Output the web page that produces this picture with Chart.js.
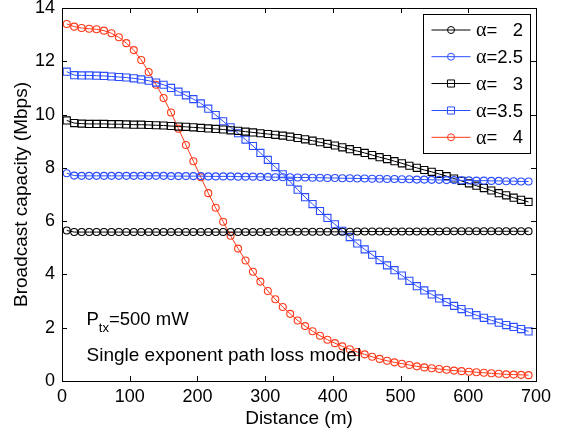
<!DOCTYPE html>
<html>
<head>
<meta charset="utf-8">
<script src="https://cdn.jsdelivr.net/npm/chart.js@4/dist/chart.umd.min.js"></script>
<style>
  html, body { margin: 0; padding: 0; background: #fff; }
  #c { display: block; }
</style>
</head>
<body>
<canvas id="c" width="569" height="434"></canvas>
<script>
// ---- data ----
const distances = [7,18,29,40,51,62,73,84,95,106,117,128,139,150,161,172,183,194,205,216,227,238,249,260,271,282,293,304,315,326,337,348,359,370,381,392,403,414,425,436,447,458,469,480,491,502,513,524,535,546,557,568,579,590,601,612,623,634,645,656,667,678,689];

const alpha2 = [5.65,5.59,5.59,5.59,5.59,5.59,5.59,5.59,5.59,5.59,5.59,5.59,5.59,5.59,5.59,5.59,5.59,5.59,5.59,5.59,5.59,5.59,5.59,5.59,5.59,5.59,5.59,5.59,5.60,5.60,5.60,5.60,5.60,5.60,5.60,5.60,5.60,5.60,5.60,5.61,5.61,5.61,5.61,5.61,5.61,5.61,5.61,5.61,5.61,5.61,5.61,5.62,5.62,5.62,5.62,5.62,5.62,5.62,5.62,5.62,5.62,5.62,5.62];

const alpha25 = [7.80,7.71,7.70,7.70,7.70,7.70,7.70,7.70,7.70,7.70,7.70,7.70,7.70,7.70,7.69,7.69,7.69,7.69,7.69,7.68,7.68,7.68,7.68,7.67,7.67,7.67,7.66,7.66,7.65,7.65,7.65,7.64,7.64,7.63,7.63,7.62,7.62,7.61,7.61,7.60,7.60,7.59,7.59,7.58,7.58,7.57,7.57,7.56,7.56,7.55,7.55,7.54,7.54,7.53,7.53,7.52,7.52,7.51,7.51,7.50,7.50,7.49,7.49];

const alpha3 = [9.78,9.68,9.66,9.65,9.65,9.65,9.64,9.64,9.63,9.62,9.62,9.61,9.60,9.59,9.57,9.55,9.54,9.52,9.50,9.48,9.46,9.44,9.41,9.39,9.36,9.33,9.30,9.27,9.24,9.21,9.17,9.12,9.07,9.02,8.96,8.90,8.84,8.77,8.70,8.63,8.56,8.48,8.40,8.33,8.25,8.17,8.08,8.00,7.92,7.85,7.77,7.69,7.60,7.51,7.42,7.33,7.24,7.15,7.05,6.97,6.88,6.80,6.72];

const alpha35 = [11.61,11.48,11.47,11.47,11.46,11.45,11.43,11.41,11.39,11.36,11.32,11.27,11.20,11.12,11.00,10.86,10.72,10.58,10.42,10.22,9.98,9.75,9.52,9.30,9.06,8.82,8.56,8.30,8.03,7.76,7.48,7.18,6.90,6.64,6.38,6.12,5.88,5.64,5.40,5.16,4.94,4.74,4.54,4.34,4.16,3.96,3.76,3.56,3.40,3.25,3.10,2.96,2.82,2.70,2.58,2.47,2.37,2.28,2.19,2.10,2.03,1.95,1.86];

const alpha4 = [13.40,13.30,13.25,13.22,13.20,13.15,13.05,12.90,12.68,12.42,12.05,11.60,11.12,10.62,10.08,9.47,8.86,8.25,7.65,7.05,6.50,5.98,5.45,4.97,4.52,4.10,3.73,3.38,3.07,2.78,2.52,2.27,2.06,1.87,1.70,1.55,1.42,1.30,1.19,1.09,1.00,0.91,0.83,0.76,0.70,0.65,0.60,0.55,0.51,0.48,0.45,0.42,0.39,0.37,0.35,0.33,0.31,0.29,0.27,0.25,0.24,0.23,0.22];

const seriesLabels = ['=   2', '=2.5', '=   3', '=3.5', '=   4'];
const xTicks = [0,100,200,300,400,500,600,700];
const yTicks = [0,2,4,6,8,10,12,14];
const xTitle = 'Distance (m)';
const yTitle = 'Broadcast capacity (Mbps)';
const noteLine1 = ['P', 'tx', '=500 mW'];
const noteLine2 = 'Single exponent path loss model';

// ---- styles ----
const BLACK = '#000000';
const BLUE = '#2a4dff';
const RED = '#ff3a1a';
const SANS = '"Liberation Sans", Arial, Helvetica, sans-serif';
const SERIF = '"Liberation Serif", "Times New Roman", serif';

function pts(vals) { return distances.map((d, i) => ({ x: d, y: vals[i] })); }

function ds(label, vals, color, style, radius) {
  return {
    label: label,
    data: pts(vals),
    borderColor: color,
    backgroundColor: 'rgba(0,0,0,0)',
    borderWidth: 1,
    pointStyle: style,
    pointRadius: radius,
    pointBorderColor: color,
    pointBackgroundColor: 'rgba(0,0,0,0)',
    pointBorderWidth: 1.1,
    fill: false,
    tension: 0,
    showLine: true
  };
}

const datasets = [
  ds(seriesLabels[0], alpha2, BLACK, 'circle', 3.5),
  ds(seriesLabels[1], alpha25, BLUE, 'circle', 3.5),
  ds(seriesLabels[2], alpha3, BLACK, 'rect', 5),
  ds(seriesLabels[3], alpha35, BLUE, 'rect', 5),
  ds(seriesLabels[4], alpha4, RED, 'circle', 3.5)
];

const framePlugin = {
  id: 'frame',
  afterDraw(chart) {
    const ctx = chart.ctx;
    const a = chart.chartArea;
    const xs = chart.scales.x, ys = chart.scales.y;
    ctx.save();
    ctx.strokeStyle = '#000';
    ctx.lineWidth = 1;
    // box
    ctx.strokeRect(Math.round(a.left) + 0.5, Math.round(a.top) + 0.5,
                   Math.round(a.right - a.left), Math.round(a.bottom - a.top));
    // inward ticks
    const TL = 5;
    ctx.beginPath();
    xTicks.forEach(v => {
      const px = Math.round(xs.getPixelForValue(v)) + 0.5;
      ctx.moveTo(px, a.bottom); ctx.lineTo(px, a.bottom - TL);
      ctx.moveTo(px, a.top); ctx.lineTo(px, a.top + TL);
    });
    yTicks.forEach(v => {
      const py = Math.round(ys.getPixelForValue(v)) + 0.5;
      ctx.moveTo(a.left, py); ctx.lineTo(a.left + TL, py);
      ctx.moveTo(a.right, py); ctx.lineTo(a.right - TL, py);
    });
    ctx.stroke();

    // annotations
    ctx.fillStyle = '#000';
    ctx.textBaseline = 'alphabetic';
    ctx.textAlign = 'left';
    let x0 = 86.5;
    ctx.font = '18.5px ' + SANS;
    ctx.fillText(noteLine1[0], x0, 325);
    let w = ctx.measureText(noteLine1[0]).width;
    ctx.font = '13px ' + SANS;
    ctx.fillText(noteLine1[1], x0 + w, 331.5);
    let w2 = ctx.measureText(noteLine1[1]).width;
    ctx.font = '18.5px ' + SANS;
    ctx.fillText(noteLine1[2], x0 + w + w2, 325);
    ctx.font = '19px ' + SANS;
    ctx.fillText(noteLine2, x0, 360.5);

    // legend
    const L = { left: 423.5, top: 14.5, right: 530.5, bottom: 153.5 };
    ctx.fillStyle = '#fff';
    ctx.fillRect(L.left, L.top, L.right - L.left, L.bottom - L.top);
    ctx.strokeStyle = '#000';
    ctx.strokeRect(L.left, L.top, L.right - L.left, L.bottom - L.top);
    const rowY = [30, 56.7, 83.5, 110.5, 137.3];
    chart.data.datasets.forEach((d, i) => {
      const y = rowY[i];
      ctx.strokeStyle = d.borderColor;
      ctx.lineWidth = 1;
      ctx.beginPath();
      ctx.moveTo(431.5, y); ctx.lineTo(470.5, y);
      ctx.stroke();
      const cx = 451;
      ctx.beginPath();
      if (d.pointStyle === 'rect') {
        const s = Math.SQRT1_2 * d.pointRadius;
        ctx.rect(cx - s, y - s, 2 * s, 2 * s);
      } else {
        ctx.arc(cx, y, d.pointRadius, 0, Math.PI * 2);
      }
      ctx.stroke();
      ctx.fillStyle = '#000';
      ctx.textBaseline = 'middle';
      ctx.font = '20px ' + SERIF;
      ctx.fillText('\u03B1', 476, y + 1);
      const aw = ctx.measureText('\u03B1').width;
      ctx.font = '18.5px ' + SANS;
      ctx.fillText(d.label, 476 + aw, y + 1);
    });
    ctx.restore();
  }
};

new Chart(document.getElementById('c'), {
  type: 'scatter',
  data: { datasets: datasets },
  options: {
    responsive: false,
    animation: false,
    devicePixelRatio: 1,
    layout: { padding: { top: 8, right: 33, left: 0, bottom: 0 } },
    plugins: {
      legend: { display: false },
      tooltip: { enabled: false }
    },
    scales: {
      x: {
        type: 'linear',
        min: 0, max: 700,
        afterBuildTicks: s => { s.ticks = xTicks.map(v => ({ value: v })); },
        afterFit: s => { s.height = 53; s.paddingLeft = 0; s.paddingRight = 0; },
        grid: { display: false, drawTicks: false },
        border: { display: false },
        ticks: { color: '#000', font: { family: SANS, size: 18 }, padding: 5, maxRotation: 0, autoSkip: false },
        title: { display: true, text: xTitle, color: '#000', font: { family: SANS, size: 19 }, padding: { top: 0, bottom: 4 } }
      },
      y: {
        type: 'linear',
        min: 0, max: 14,
        afterBuildTicks: s => { s.ticks = yTicks.map(v => ({ value: v })); },
        afterFit: s => { s.width = 62; s.paddingTop = 0; s.paddingBottom = 0; },
        grid: { display: false, drawTicks: false },
        border: { display: false },
        ticks: { color: '#000', font: { family: SANS, size: 18 }, padding: 7, autoSkip: false },
        title: { display: true, text: yTitle, color: '#000', font: { family: SANS, size: 19 }, padding: { top: 10, bottom: 0 } }
      }
    }
  },
  plugins: [framePlugin]
});
</script>
</body>
</html>
